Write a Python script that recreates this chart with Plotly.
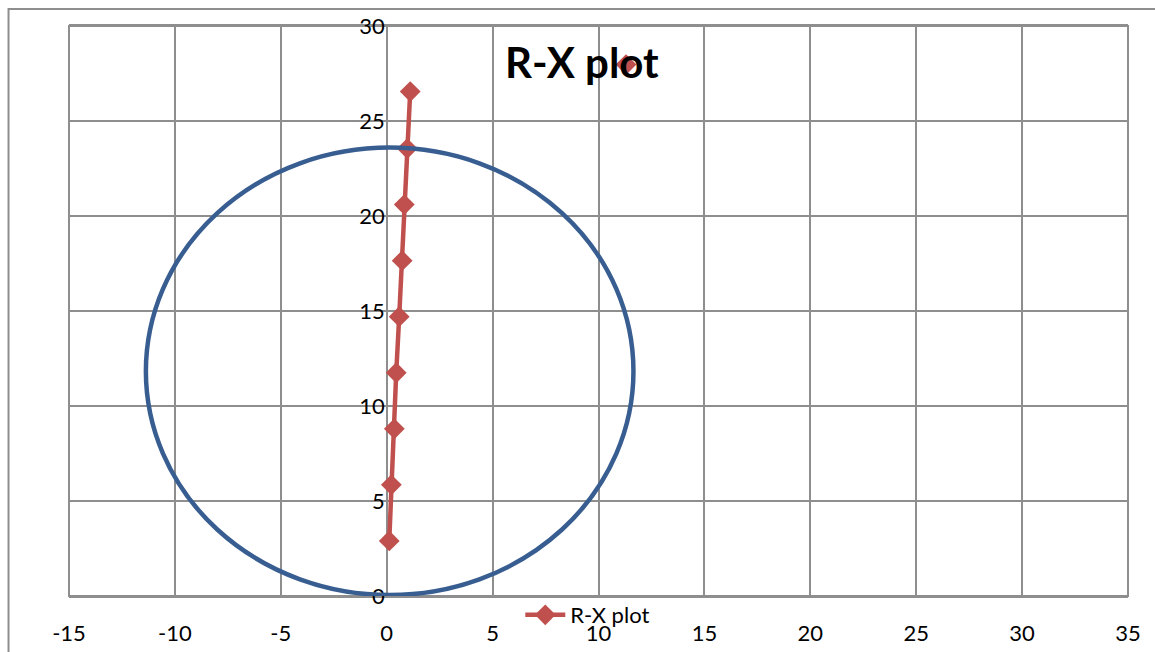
import plotly.graph_objects as go

# R-X trajectory data
r_values = [0.12, 0.22, 0.36, 0.45, 0.59, 0.73, 0.83, 0.97, 1.11]
x_values = [2.90, 5.85, 8.80, 11.75, 14.70, 17.65, 20.60, 23.55, 26.55]

# Stray point near title
stray_r = [11.3]
stray_x = [27.97]

# Relay characteristic circle (bounding box in data units)
circle_r_min = -11.37
circle_r_max = 11.65
circle_x_min = 0.05
circle_x_max = 23.6

x_ticks = [-15, -10, -5, 0, 5, 10, 15, 20, 25, 30, 35]
y_ticks = [0, 5, 10, 15, 20, 25, 30]

RED = "#C0504D"
BLUE = "#385E91"
GRID = "#8E8E8E"
FONT = "Lato, 'Liberation Sans', sans-serif"

fig = go.Figure()

fig.add_shape(type="circle", xref="x", yref="y",
              x0=circle_r_min, x1=circle_r_max, y0=circle_x_min, y1=circle_x_max,
              line=dict(color=BLUE, width=4.5), layer="above")

fig.add_trace(go.Scatter(x=r_values, y=x_values, mode="lines+markers", name="R-X plot",
                         line=dict(color=RED, width=4.5),
                         marker=dict(symbol="diamond", size=16, color=RED)))
fig.add_trace(go.Scatter(x=stray_r, y=stray_x, mode="markers", showlegend=False,
                         marker=dict(symbol="diamond", size=16, color=RED)))

W, H = 1155, 652
L, R, T, B = 68.5, 27, 26, 56
pw, ph = W - L - R, H - T - B
def px_to_paper_x(p):
    return (p - L) / pw
def px_to_paper_y(p):
    return (H - B - p) / ph

# outer chart border (extends beyond the visible page)
fig.add_shape(type="rect", xref="paper", yref="paper",
              x0=px_to_paper_x(8), x1=px_to_paper_x(1200),
              y0=px_to_paper_y(700), y1=px_to_paper_y(9),
              line=dict(color=GRID, width=2), layer="below")

fig.add_annotation(text="<b>R-X plot</b>", xref="paper", yref="paper",
                   x=px_to_paper_x(582), y=px_to_paper_y(62),
                   showarrow=False, font=dict(size=42, color="black", family=FONT),
                   xanchor="center", yanchor="middle")

fig.update_layout(
    width=W, height=H,
    margin=dict(l=L, r=R, t=T, b=B, autoexpand=False),
    paper_bgcolor="white", plot_bgcolor="white",
    font=dict(family=FONT, size=22, color="black"),
    showlegend=True,
    legend=dict(x=px_to_paper_x(520), y=px_to_paper_y(615), xanchor="left", yanchor="middle",
                bgcolor="rgba(0,0,0,0)", font=dict(size=22), itemwidth=40),
    xaxis=dict(range=[-15, 35], tickvals=x_ticks, ticktext=[str(v) for v in x_ticks],
               showgrid=True, gridcolor=GRID, gridwidth=1.5, zeroline=False,
               showline=True, linecolor=GRID, linewidth=2, mirror=True,
               ticks="", ticklabelstandoff=17, tickfont=dict(size=22)),
    yaxis=dict(range=[0, 30], tickvals=y_ticks, ticktext=[str(v) for v in y_ticks],
               showgrid=True, gridcolor=GRID, gridwidth=1.5, zeroline=False,
               showline=False, anchor="free", position=0.3,
               ticks="", tickfont=dict(size=22), ticklabelstandoff=2),
)
# plot area frame
fig.add_shape(type="rect", xref="paper", yref="paper", x0=0, x1=1, y0=0, y1=1,
              line=dict(color=GRID, width=2), layer="below")

fig.write_html("out.html")
